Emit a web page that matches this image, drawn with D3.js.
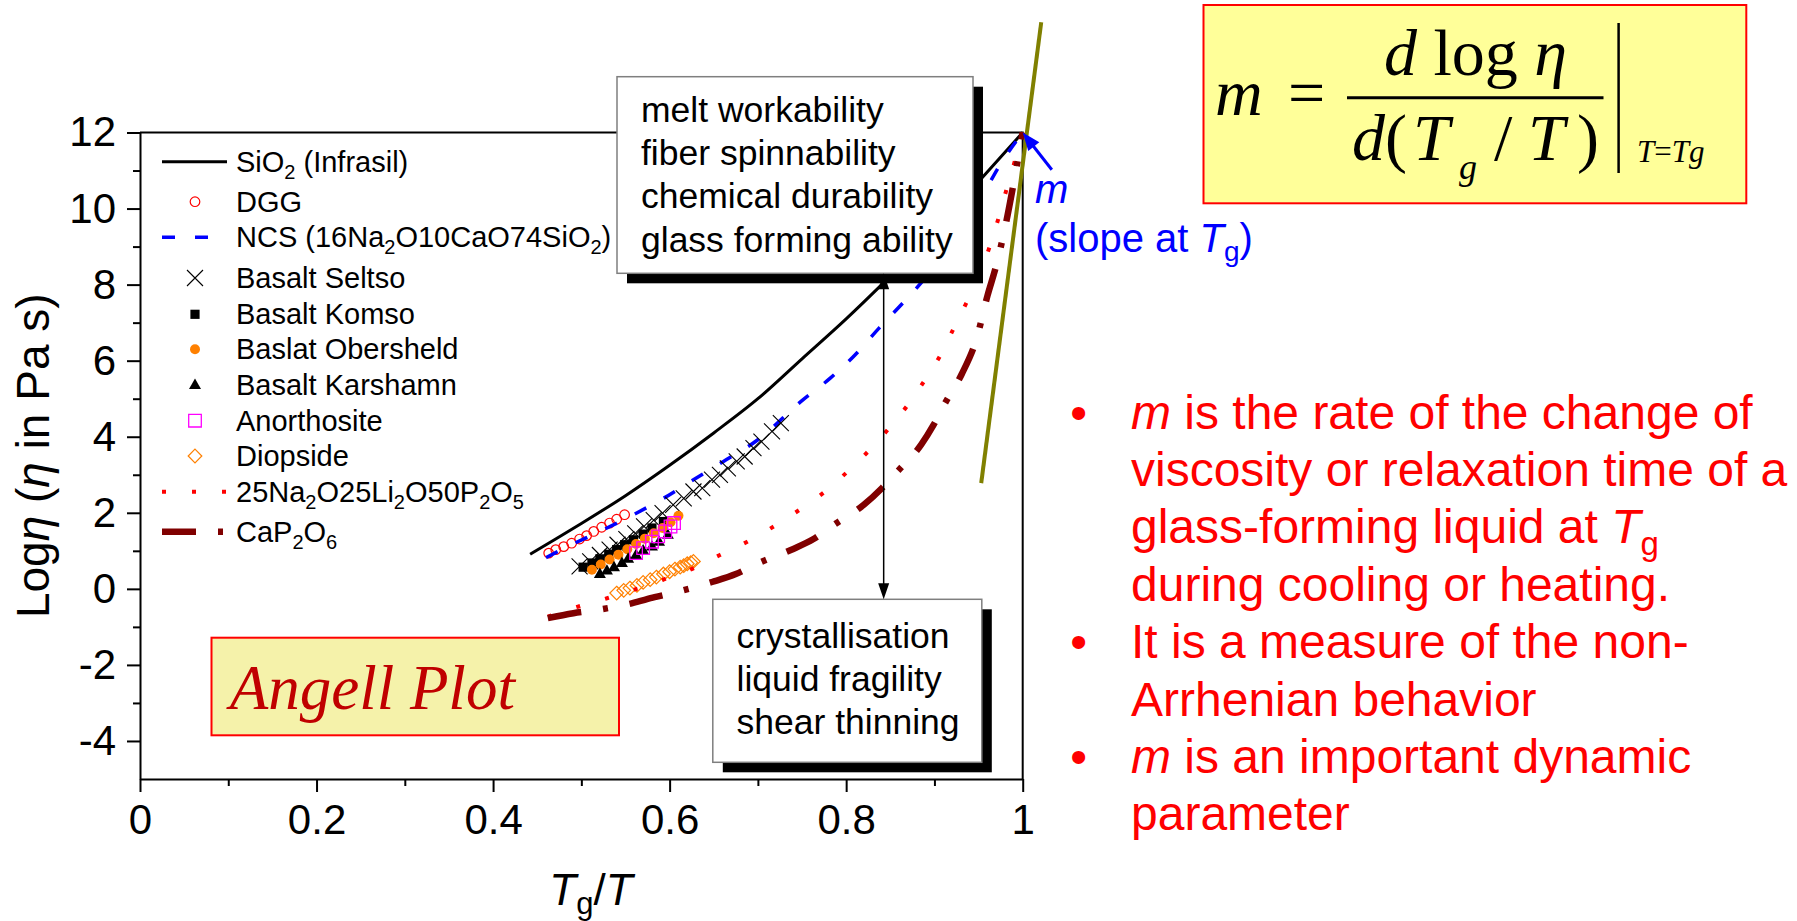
<!DOCTYPE html>
<html>
<head>
<meta charset="utf-8">
<script src="https://cdn.jsdelivr.net/npm/d3@7"></script>
<style>
  html, body { margin: 0; padding: 0; background: #fff; }
  svg { display: block; }
</style>
</head>
<body>
<svg id="chart" width="1797" height="921"></svg>
<script>
// ---------------- data ----------------
const xTicks = [0, 0.2, 0.4, 0.6, 0.8, 1];
const xMinorTicks = [0.1, 0.3, 0.5, 0.7, 0.9];
const yTicks = [-4, -2, 0, 2, 4, 6, 8, 10, 12];
const yMinorTicks = [-3, -1, 1, 3, 5, 7, 9, 11];

// [Tg/T, log viscosity]
const sio2 = [[0.442,0.91],[0.47,1.30],[0.50,1.72],[0.55,2.45],[0.60,3.25],[0.65,4.10],[0.70,5.00],
  [0.75,6.05],[0.80,7.10],[0.842,8.04],[0.90,9.40],[0.952,10.76],[1.0,12.0]];
const dgg = [[0.463,0.94],[0.471,1.03],[0.480,1.11],[0.489,1.20],[0.498,1.31],[0.506,1.40],
  [0.514,1.51],[0.523,1.62],[0.532,1.73],[0.540,1.83],[0.549,1.95]];
const ncs = [[0.46,0.82],[0.487,1.14],[0.521,1.51],[0.559,1.95],[0.593,2.38],[0.627,2.87],[0.661,3.35],
  [0.700,3.92],[0.751,4.97],[0.782,5.54],[0.810,6.15],[0.837,6.85],[0.864,7.51],[0.888,8.13],
  [0.92,9.10],[0.954,10.32],[0.973,11.10],[1.0,12.0]];
const seltso = [[0.498,0.59],[0.510,0.72],[0.521,0.89],[0.532,1.03],[0.541,1.16],[0.551,1.31],[0.561,1.46],
  [0.571,1.64],[0.582,1.81],[0.592,1.99],[0.604,2.21],[0.616,2.38],[0.627,2.56],[0.637,2.65],[0.648,2.87],
  [0.657,3.00],[0.666,3.17],[0.676,3.35],[0.685,3.48],[0.695,3.70],[0.704,3.87],[0.716,4.14],[0.726,4.36]];
const komso = [[0.502,0.57],[0.512,0.68],[0.521,0.79],[0.531,0.91],[0.540,1.03],[0.549,1.16],[0.559,1.29],
  [0.570,1.44],[0.580,1.60],[0.593,1.77]];
const obersheld = [[0.512,0.50],[0.522,0.64],[0.532,0.77],[0.542,0.90],[0.552,1.04],[0.562,1.18],
  [0.572,1.32],[0.582,1.46],[0.592,1.60],[0.601,1.75],[0.610,1.92]];
const karshamn = [[0.521,0.39],[0.529,0.48],[0.537,0.57],[0.546,0.68],[0.553,0.79],[0.562,0.89],
  [0.570,1.01],[0.580,1.11],[0.588,1.24],[0.598,1.42]];
const anorthosite = [[0.562,0.94],[0.570,1.07],[0.580,1.24],[0.587,1.38],[0.595,1.51],[0.601,1.64],[0.605,1.73]];
const diopside = [[0.540,-0.11],[0.548,-0.04],[0.555,0.02],[0.563,0.09],[0.570,0.17],[0.578,0.24],[0.585,0.31],
  [0.593,0.39],[0.600,0.45],[0.606,0.52],[0.612,0.57],[0.616,0.61],[0.620,0.66],[0.624,0.69],[0.627,0.72]];
const naLiP = [[0.462,-0.73],[0.496,-0.47],[0.530,-0.24],[0.560,-0.02],[0.590,0.22],[0.625,0.52],[0.657,0.89],
  [0.688,1.24],[0.718,1.64],[0.746,2.06],[0.775,2.54],[0.801,3.07],[0.826,3.64],[0.848,4.21],[0.869,4.81],
  [0.888,5.45],[0.906,6.11],[0.921,6.81],[0.936,7.51],[0.950,8.21],[0.962,8.96],[0.972,9.70],[0.981,10.45],
  [0.991,11.24],[1.0,12.0]];
const cap2o6 = [[0.462,-0.77],[0.491,-0.64],[0.519,-0.55],[0.557,-0.38],[0.583,-0.22],[0.610,-0.07],[0.648,0.18],
  [0.675,0.39],[0.701,0.68],[0.738,1.03],[0.763,1.31],[0.786,1.68],[0.820,2.21],[0.841,2.66],[0.859,3.11],
  [0.885,3.79],[0.899,4.31],[0.912,4.88],[0.931,5.65],[0.948,6.60],[0.960,7.70],[0.970,8.50],[0.980,9.50],
  [0.990,10.70],[1.0,12.0]];
// tangent at Tg (slope m)
const tangent = [[0.953,2.78],[1.021,14.9]];

// ---------------- layout ----------------
const SANS = '"Liberation Sans", Arial, sans-serif';
const SERIF = '"Liberation Serif", "Times New Roman", serif';
const svg = d3.select("#chart").attr("font-family", SANS);
const x = d3.scaleLinear().domain([0, 1]).range([140, 1022.7]);
const y = d3.scaleLinear().domain([-5, 12]).range([779, 132.5]);

// marker shapes
const shapes = {
  circle: s => `M${s},0A${s},${s} 0 1,1 ${-s},0A${s},${s} 0 1,1 ${s},0Z`,
  cross: s => `M${-s},${-s}L${s},${s}M${-s},${s}L${s},${-s}`,
  square: s => `M${-s},${-s}H${s}V${s}H${-s}Z`,
  diamond: s => `M0,${-s}L${s},0L0,${s}L${-s},0Z`,
  triangle: s => { const h = s * 1.732; return `M0,${-h * 0.62}L${s},${h * 0.38}L${-s},${h * 0.38}Z`; }
};

// series styles
const series = [
  { data: sio2, type: "line", stroke: "#000", width: 3, dash: null,
    label: [["SiO"], ["2", "sub"], [" (Infrasil)"]] },
  { data: dgg, type: "mark", shape: "circle", size: 4.8, fill: "none", stroke: "#ff0000", sw: 1.2,
    label: [["DGG"]] },
  { data: ncs, type: "line", stroke: "#0000ff", width: 3.5, dash: "13 20",
    label: [["NCS (16Na"], ["2", "sub"], ["O10CaO74SiO"], ["2", "sub"], [")"]] },
  { data: seltso, type: "mark", shape: "cross", size: 8, fill: "none", stroke: "#000", sw: 1.1,
    label: [["Basalt Seltso"]] },
  { data: komso, type: "mark", shape: "square", size: 4.6, fill: "#000", stroke: "none", sw: 0,
    label: [["Basalt Komso"]] },
  { data: obersheld, type: "mark", shape: "circle", size: 5, fill: "#ff8000", stroke: "none", sw: 0,
    label: [["Baslat Obersheld"]] },
  { data: karshamn, type: "mark", shape: "triangle", size: 6, fill: "#000", stroke: "none", sw: 0,
    label: [["Basalt Karshamn"]] },
  { data: anorthosite, type: "mark", shape: "square", size: 6.3, fill: "none", stroke: "#ff00ff", sw: 1.3,
    label: [["Anorthosite"]] },
  { data: diopside, type: "mark", shape: "diamond", size: 6.8, fill: "none", stroke: "#ff8000", sw: 1.2,
    label: [["Diopside"]] },
  { data: naLiP, type: "line", stroke: "#ff0000", width: 4, dash: "4 26",
    label: [["25Na"], ["2", "sub"], ["O25Li"], ["2", "sub"], ["O50P"], ["2", "sub"], ["O"], ["5", "sub"]] },
  { data: cap2o6, type: "line", stroke: "#800000", width: 6.5, dash: "34 22 5 22",
    label: [["CaP"], ["2", "sub"], ["O"], ["6", "sub"]] }
];
const legendRowY = [161.7, 201.7, 237.3, 278, 314.3, 349.3, 385, 420.7, 456, 491.7, 531.7];

// text helper: segments [text, kind] where kind is "i" (italic) or "sub"
function addSegs(t, segs, size, subSize, subShift) {
  let inSub = false;
  segs.forEach(([txt, kind]) => {
    const sp = t.append("tspan").text(txt);
    if (kind === "sub") {
      sp.attr("font-size", subSize);
      if (!inSub) sp.attr("dy", subShift);
      inSub = true;
    } else {
      sp.attr("font-size", size);
      if (inSub) sp.attr("dy", -subShift);
      inSub = false;
      if (kind === "i") sp.attr("font-style", "italic");
    }
  });
}

// ---------------- axes ----------------
const axisFont = g => g.attr("font-size", 42).attr("font-family", SANS)
  .call(s => s.selectAll("line, path").attr("stroke-width", 2));

svg.append("g").attr("transform", `translate(0,${y(-5)})`)
  .call(d3.axisBottom(x).tickValues(xTicks).tickSize(13).tickSizeOuter(0).tickPadding(12)
    .tickFormat(d => String(d)))
  .call(axisFont);
svg.append("g").attr("transform", `translate(0,${y(-5)})`)
  .call(d3.axisBottom(x).tickValues(xMinorTicks).tickSize(7).tickFormat(""))
  .call(g => g.select(".domain").remove())
  .call(g => g.selectAll("line").attr("stroke-width", 2));

svg.append("g").attr("transform", `translate(${x(0)},0)`)
  .call(d3.axisLeft(y).tickValues(yTicks).tickSize(13).tickSizeOuter(0).tickPadding(11)
    .tickFormat(d => String(d)))
  .call(axisFont);
svg.append("g").attr("transform", `translate(${x(0)},0)`)
  .call(d3.axisLeft(y).tickValues(yMinorTicks).tickSize(7).tickFormat(""))
  .call(g => g.select(".domain").remove())
  .call(g => g.selectAll("line").attr("stroke-width", 2));

// top and right frame
svg.append("path")
  .attr("d", `M${x(0)},${y(12)}H${x(1)}V${y(-5)}`)
  .attr("fill", "none").attr("stroke", "#000").attr("stroke-width", 2);

// axis titles
const yTitle = svg.append("text")
  .attr("transform", `translate(49,${(y(12) + y(-5)) / 2}) rotate(-90)`)
  .attr("text-anchor", "middle");
addSegs(yTitle, [["Log"], ["η", "i"], [" ("], ["η", "i"], [" in Pa s)"]], 46, 30, 9);

const xTitle = svg.append("text")
  .attr("x", 591).attr("y", 905).attr("text-anchor", "middle");
addSegs(xTitle, [["T", "i"], ["g", "sub"], ["/"], ["T", "i"]], 44, 31, 9);

// ---------------- series ----------------
const lineGen = d3.line().x(d => x(d[0])).y(d => y(d[1])).curve(d3.curveMonotoneX);
const plot = svg.append("g");

series.forEach(s => {
  if (s.type === "line") {
    plot.append("path").datum(s.data)
      .attr("d", lineGen)
      .attr("fill", "none")
      .attr("stroke", s.stroke)
      .attr("stroke-width", s.width)
      .attr("stroke-dasharray", s.dash);
  } else {
    plot.append("g").selectAll("path").data(s.data).join("path")
      .attr("transform", d => `translate(${x(d[0])},${y(d[1])})`)
      .attr("d", shapes[s.shape](s.size))
      .attr("fill", s.fill)
      .attr("stroke", s.stroke)
      .attr("stroke-width", s.sw);
  }
});

// tangent line at Tg
plot.append("path").datum(tangent)
  .attr("d", d3.line().x(d => x(d[0])).y(d => y(d[1])))
  .attr("stroke", "#808000").attr("stroke-width", 4).attr("fill", "none");

// ---------------- legend ----------------
const legend = svg.append("g").attr("font-size", 29);
series.forEach((s, i) => {
  const cy = legendRowY[i];
  if (s.type === "line") {
    legend.append("line")
      .attr("x1", 162).attr("x2", 227).attr("y1", cy).attr("y2", cy)
      .attr("stroke", s.stroke).attr("stroke-width", s.width)
      .attr("stroke-dasharray", s.dash);
  } else {
    legend.append("path")
      .attr("transform", `translate(195,${cy})`)
      .attr("d", shapes[s.shape](s.size))
      .attr("fill", s.fill).attr("stroke", s.stroke).attr("stroke-width", s.sw);
  }
  const t = legend.append("text").attr("x", 236).attr("y", cy + 10);
  addSegs(t, s.label, 29, 20, 7);
});

// ---------------- annotation boxes ----------------
function noteBox(bx, by, bw, bh, lines, tx, firstBase, step) {
  svg.append("rect").attr("x", bx + 10).attr("y", by + 10).attr("width", bw).attr("height", bh)
    .attr("fill", "#000");
  svg.append("rect").attr("x", bx).attr("y", by).attr("width", bw).attr("height", bh)
    .attr("fill", "#fff").attr("stroke", "#7f7f7f").attr("stroke-width", 1.5);
  lines.forEach((ln, i) => {
    svg.append("text").attr("x", tx).attr("y", firstBase + i * step)
      .attr("font-size", 35.5).text(ln);
  });
}
noteBox(617, 76.7, 356, 196.6,
  ["melt workability", "fiber spinnability", "chemical durability", "glass forming ability"], 641, 122, 43.2);
noteBox(712.8, 599.3, 269, 163,
  ["crystallisation", "liquid fragility", "shear thinning"], 736.5, 648, 43);

// double arrow between the boxes
const ax = x(0.8425), aTop = 273.3, aBot = 599.3;
svg.append("line").attr("x1", ax).attr("x2", ax).attr("y1", aTop + 14).attr("y2", aBot - 14)
  .attr("stroke", "#000").attr("stroke-width", 1.5);
svg.append("path").attr("d", `M${ax},${aTop}l5.5,16h-11Z`).attr("fill", "#000");
svg.append("path").attr("d", `M${ax},${aBot}l5.5,-16h-11Z`).attr("fill", "#000");

// Angell Plot label
svg.append("rect").attr("x", 211.5).attr("y", 637.7).attr("width", 407.5).attr("height", 97.6)
  .attr("fill", "#f5f2aa").attr("stroke", "#ff0000").attr("stroke-width", 2);
svg.append("text").attr("x", 229.7).attr("y", 709)
  .attr("font-family", SERIF).attr("font-style", "italic").attr("font-size", 63)
  .attr("fill", "#c00000").text("Angell Plot");

// slope annotation
const tipX = x(1), tipY = y(12);
const tailX = x(1.033), tailY = y(11.02);
const ang = Math.atan2(tipY - tailY, tipX - tailX);
svg.append("line").attr("x1", tailX).attr("y1", tailY)
  .attr("x2", tipX - 12 * Math.cos(ang)).attr("y2", tipY - 12 * Math.sin(ang))
  .attr("stroke", "#0000ff").attr("stroke-width", 3);
svg.append("path")
  .attr("d", `M0,0L-18,-7L-18,7Z`)
  .attr("transform", `translate(${tipX},${tipY}) rotate(${ang * 180 / Math.PI})`)
  .attr("fill", "#0000ff");
svg.append("text").attr("x", 1035).attr("y", 203).attr("font-size", 40)
  .attr("font-style", "italic").attr("fill", "#0000ff").text("m");
const slopeT = svg.append("text").attr("x", 1035).attr("y", 251.7).attr("fill", "#0000ff");
addSegs(slopeT, [["(slope at "], ["T", "i"], ["g", "sub"], [")"]], 40, 28, 9);

// ---------------- formula ----------------
svg.append("rect").attr("x", 1203.5).attr("y", 5).attr("width", 542.8).attr("height", 198.3)
  .attr("fill", "#ffff99").attr("stroke", "#ff0000").attr("stroke-width", 2);
const F = svg.append("g").attr("font-family", SERIF).attr("font-size", 66).attr("fill", "#000");
F.append("text").attr("x", 1215).attr("y", 115).attr("font-style", "italic").text("m");
F.append("text").attr("x", 1288).attr("y", 115).text("=");
const num = F.append("text").attr("x", 1475.5).attr("y", 75).attr("text-anchor", "middle");
num.append("tspan").attr("font-style", "italic").text("d");
num.append("tspan").text(" log ");
num.append("tspan").attr("font-style", "italic").text("η");
F.append("line").attr("x1", 1347).attr("x2", 1603.5).attr("y1", 97.7).attr("y2", 97.7)
  .attr("stroke", "#000").attr("stroke-width", 3);
F.append("text").attr("x", 1352).attr("y", 160).attr("font-style", "italic").text("d");
F.append("text").attr("x", 1385).attr("y", 160).text("(");
F.append("text").attr("x", 1413).attr("y", 160).attr("font-style", "italic").text("T");
F.append("text").attr("x", 1459).attr("y", 179).attr("font-size", 36).attr("font-style", "italic").text("g");
F.append("text").attr("x", 1494).attr("y", 160).text("/");
F.append("text").attr("x", 1528).attr("y", 160).attr("font-style", "italic").text("T");
F.append("text").attr("x", 1577).attr("y", 160).text(")");
F.append("line").attr("x1", 1618.6).attr("x2", 1618.6).attr("y1", 23).attr("y2", 173)
  .attr("stroke", "#000").attr("stroke-width", 2.5);
const at = F.append("text").attr("x", 1637).attr("y", 161.7).attr("font-size", 31);
at.append("tspan").attr("font-style", "italic").text("T");
at.append("tspan").text("=");
at.append("tspan").attr("font-style", "italic").text("T");
at.append("tspan").attr("font-style", "italic").text("g");

// ---------------- bullet notes ----------------
const notes = [
  { bullet: true, segs: [["m", "i"], [" is the rate of the change of"]] },
  { segs: [["viscosity or relaxation time of a"]] },
  { segs: [["glass-forming liquid at "], ["T", "i"], ["g", "sub"]] },
  { segs: [["during cooling or heating."]] },
  { bullet: true, segs: [["It is a measure of the non-"]] },
  { segs: [["Arrhenian behavior"]] },
  { bullet: true, segs: [["m", "i"], [" is an important dynamic"]] },
  { segs: [["parameter"]] }
];
const notesG = svg.append("g").attr("fill", "#ff0000");
notes.forEach((n, i) => {
  const base = 428.5 + i * 57.4;
  if (n.bullet) {
    notesG.append("text").attr("x", 1078.6).attr("y", base).attr("text-anchor", "middle")
      .attr("font-size", 48).text("•");
  }
  const t = notesG.append("text").attr("x", 1131).attr("y", base);
  addSegs(t, n.segs, 48, 33, 12);
});
</script>
</body>
</html>
